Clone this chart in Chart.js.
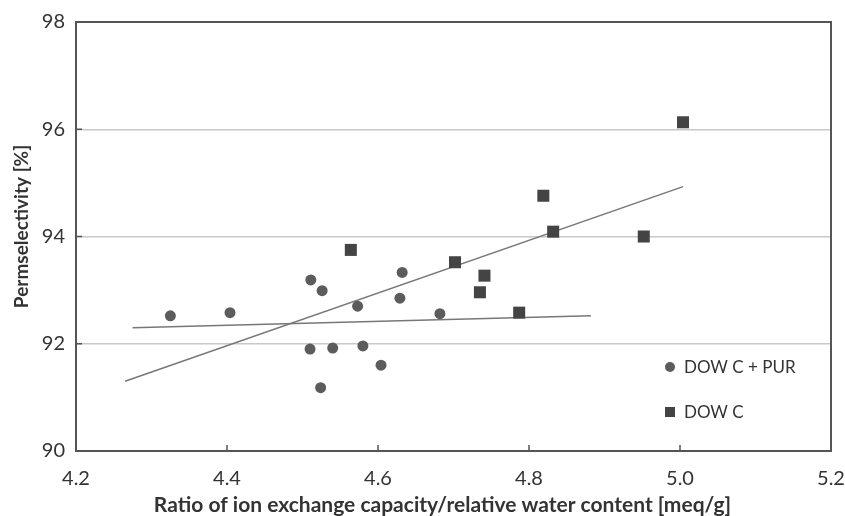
<!DOCTYPE html>
<html>
<head>
<meta charset="utf-8">
<script src="https://cdn.jsdelivr.net/npm/chart.js@4"></script>
<style>
  html, body { margin: 0; padding: 0; background: #fff; }
  #wrap { width: 845px; height: 516px; }
</style>
</head>
<body>
<div id="wrap"><canvas id="c" width="845" height="516"></canvas></div>
<script>
// Membrane permselectivity vs. IEC / relative water content ratio
const purRatio = [4.325, 4.404, 4.511, 4.526, 4.573, 4.632, 4.629, 4.682, 4.510, 4.540, 4.580, 4.604, 4.524];
const purPerm  = [92.52, 92.58, 93.19, 92.99, 92.70, 93.33, 92.85, 92.56, 91.90, 91.92, 91.96, 91.60, 91.18];

const dowRatio = [4.564, 4.702, 4.741, 4.735, 4.787, 4.819, 4.832, 4.952, 5.004];
const dowPerm  = [93.75, 93.52, 93.27, 92.96, 92.58, 94.76, 94.09, 94.00, 96.13];

// linear trend lines (end points)
const purTrendX = [4.275, 4.882];
const purTrendY = [92.30, 92.52];
const dowTrendX = [4.265, 5.004];
const dowTrendY = [91.30, 94.93];

const xTicks = [4.2, 4.4, 4.6, 4.8, 5.0, 5.2];
const yTicks = [90, 92, 94, 96, 98];

const seriesNames = ['DOW C + PUR', 'DOW C'];
const xTitle = 'Ratio of ion exchange capacity/relative water content [meq/g]';
const yTitle = 'Permselectivity [%]';

const toPts = (xs, ys) => xs.map((x, i) => ({ x: x, y: ys[i] }));

const TEXT = '#333333';
const FRAME = '#555555';
const FONT = 'Lato, "Open Sans", sans-serif';

// frame and inward tick marks
const framePlugin = {
  id: 'frame',
  beforeDatasetsDraw(chart) {
    const { ctx, chartArea: a, scales } = chart;
    ctx.save();
    ctx.strokeStyle = FRAME;
    ctx.lineWidth = 2;
    ctx.strokeRect(a.left, a.top, a.right - a.left, a.bottom - a.top);
    ctx.lineWidth = 1.5;
    ctx.beginPath();
    xTicks.forEach(v => {
      const px = scales.x.getPixelForValue(v);
      ctx.moveTo(px, a.bottom);
      ctx.lineTo(px, a.bottom - 6);
    });
    yTicks.forEach(v => {
      const py = scales.y.getPixelForValue(v);
      ctx.moveTo(a.left, py);
      ctx.lineTo(a.left + 6, py);
    });
    ctx.stroke();
    ctx.restore();
  }
};

// axis titles and the legend in the lower right of the plot area
const labelsPlugin = {
  id: 'labels',
  afterDraw(chart) {
    const { ctx, chartArea: a } = chart;
    ctx.save();
    ctx.fillStyle = TEXT;
    ctx.textAlign = 'center';
    ctx.textBaseline = 'middle';
    ctx.font = 'bold 21px ' + FONT;
    ctx.fillText(xTitle, (a.left + a.right) / 2 - 11, a.bottom + 54);
    ctx.save();
    ctx.translate(22, (a.top + a.bottom) / 2 - 10);
    ctx.rotate(-Math.PI / 2);
    ctx.font = 'bold 19px ' + FONT;
    ctx.fillText(yTitle, 0, 0);
    ctx.restore();

    const x0 = a.right - 161;
    const rows = [a.top + 345, a.top + 390];
    ctx.font = '17px ' + FONT;
    ctx.textAlign = 'left';
    [0, 1].forEach(i => {
      const ds = chart.data.datasets[i];
      ctx.fillStyle = ds.backgroundColor;
      if (i === 0) {
        ctx.beginPath();
        ctx.arc(x0, rows[i], 5, 0, Math.PI * 2);
        ctx.fill();
      } else {
        ctx.fillRect(x0 - 5, rows[i] - 5, 10, 10);
      }
      ctx.fillStyle = TEXT;
      ctx.fillText(seriesNames[i], x0 + 14, rows[i] + 1);
    });
    ctx.restore();
  }
};

new Chart(document.getElementById('c'), {
  type: 'scatter',
  data: {
    datasets: [
      {
        label: seriesNames[0],
        data: toPts(purRatio, purPerm),
        pointStyle: 'circle',
        pointRadius: 5.5,
        pointHoverRadius: 5.5,
        backgroundColor: '#5c5c5c',
        borderColor: '#5c5c5c',
        borderWidth: 0
      },
      {
        label: seriesNames[1],
        data: toPts(dowRatio, dowPerm),
        pointStyle: 'rect',
        pointRadius: 8.5,
        pointHoverRadius: 8.5,
        backgroundColor: '#444444',
        borderColor: '#444444',
        borderWidth: 0
      },
      {
        label: 'trend PUR',
        data: toPts(purTrendX, purTrendY),
        showLine: true,
        pointRadius: 0,
        borderColor: '#777777',
        borderWidth: 1.5,
        fill: false
      },
      {
        label: 'trend DOW C',
        data: toPts(dowTrendX, dowTrendY),
        showLine: true,
        pointRadius: 0,
        borderColor: '#777777',
        borderWidth: 1.5,
        fill: false
      }
    ]
  },
  options: {
    responsive: false,
    animation: false,
    layout: { padding: { left: 0, top: 22, right: 14, bottom: 0 } },
    plugins: {
      legend: { display: false },
      tooltip: { enabled: false }
    },
    scales: {
      x: {
        type: 'linear',
        min: 4.2,
        max: 5.2,
        afterBuildTicks(scale) { scale.ticks = xTicks.map(v => ({ value: v })); },
        afterFit(scale) {
          scale.height = 65;
          scale.paddingLeft = 0;
          scale.paddingRight = 0;
        },
        ticks: {
          padding: 16,
          color: TEXT,
          font: { family: FONT, size: 20 },
          callback: v => Number(v).toFixed(1),
          maxRotation: 0
        },
        grid: { display: false, drawTicks: false },
        border: { display: false }
      },
      y: {
        type: 'linear',
        min: 90,
        max: 98,
        afterBuildTicks(scale) { scale.ticks = yTicks.map(v => ({ value: v })); },
        afterFit(scale) {
          scale.width = 76;
          scale.paddingTop = 0;
          scale.paddingBottom = 0;
        },
        ticks: {
          padding: 11,
          color: TEXT,
          font: { family: FONT, size: 20 },
          callback: v => String(v)
        },
        grid: {
          drawTicks: false,
          lineWidth: 1.5,
          color: ctx => (ctx.tick && (ctx.tick.value === 90 || ctx.tick.value === 98)) ? 'rgba(0,0,0,0)' : '#c8c8c8'
        },
        border: { display: false }
      }
    }
  },
  plugins: [framePlugin, labelsPlugin]
});
</script>
</body>
</html>
